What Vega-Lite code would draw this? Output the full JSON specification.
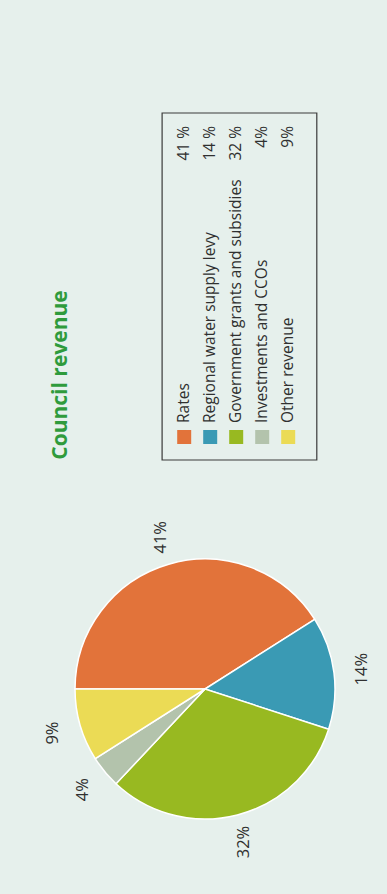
{
  "$schema": "https://vega.github.io/schema/vega-lite/v6.json",
  "background": "#E6F0EC",
  "padding": {"left": 23, "top": 0, "right": 0, "bottom": 0},
  "spacing": 0,
  "config": {
    "view": {"stroke": null},
    "font": "Open Sans",
    "text": {"font": "Open Sans"}
  },
  "datasets": {
    "revenue": [
      {"category": "Rates", "value": 41, "order": 1, "legendPct": "41 %", "piePct": "41%"},
      {"category": "Regional water supply levy", "value": 14, "order": 2, "legendPct": "14 %", "piePct": "14%"},
      {"category": "Government grants and subsidies", "value": 32, "order": 3, "legendPct": "32 %", "piePct": "32%"},
      {"category": "Investments and CCOs", "value": 4, "order": 4, "legendPct": "4%", "piePct": "4%"},
      {"category": "Other revenue", "value": 9, "order": 5, "legendPct": "9%", "piePct": "9%"}
    ]
  },
  "vconcat": [
    {
      "width": 364,
      "height": 484,
      "layer": [
        {
          "data": {"values": [{"title": "Council revenue"}]},
          "mark": {"type": "text", "angle": 270, "align": "center", "baseline": "middle", "fontSize": 21, "fontWeight": "bold", "color": "#2F9B3C"},
          "encoding": {
            "x": {"datum": -3.75, "type": "quantitative", "scale": {"domain": [-5.2, 8.8], "nice": false, "zero": false}, "axis": null},
            "y": {"datum": 375, "type": "quantitative", "scale": {"domain": [0, 484], "nice": false, "zero": false, "reverse": true}, "axis": null},
            "text": {"field": "title"}
          }
        },
        {
          "data": {"values": [{"box": "legend"}]},
          "mark": {"type": "rect", "fill": null, "fillOpacity": 0, "stroke": "#3a3a3a", "strokeWidth": 1.2},
          "encoding": {
            "x": {"datum": 0.15, "type": "quantitative"},
            "x2": {"datum": 6.1},
            "y": {"datum": 113, "type": "quantitative"},
            "y2": {"datum": 460}
          }
        },
        {
          "data": {"name": "revenue"},
          "mark": {"type": "square", "size": 196, "filled": true, "opacity": 1},
          "encoding": {
            "x": {"field": "order", "type": "quantitative"},
            "y": {"datum": 437, "type": "quantitative"},
            "color": {
              "field": "category",
              "type": "nominal",
              "scale": {
                "domain": ["Rates", "Regional water supply levy", "Government grants and subsidies", "Investments and CCOs", "Other revenue"],
                "range": ["#E2733A", "#3A9AB4", "#98B921", "#B3C3AC", "#EBDB55"]
              },
              "legend": null
            }
          }
        },
        {
          "data": {"name": "revenue"},
          "mark": {"type": "text", "angle": 270, "align": "left", "baseline": "middle", "fontSize": 15.5, "color": "#303030"},
          "encoding": {
            "x": {"field": "order", "type": "quantitative"},
            "y": {"datum": 423, "type": "quantitative"},
            "text": {"field": "category"}
          }
        },
        {
          "data": {"name": "revenue"},
          "mark": {"type": "text", "angle": 270, "align": "right", "baseline": "middle", "fontSize": 15.5, "color": "#303030"},
          "encoding": {
            "x": {"field": "order", "type": "quantitative"},
            "y": {"datum": 126, "type": "quantitative"},
            "text": {"field": "legendPct"}
          }
        }
      ]
    },
    {
      "width": 364,
      "height": 410,
      "data": {"name": "revenue"},
      "encoding": {
        "theta": {"field": "value", "type": "quantitative", "stack": true, "scale": {"range": [-1.5708, 4.7124]}},
        "order": {"field": "order", "type": "quantitative"}
      },
      "layer": [
        {
          "mark": {"type": "arc", "outerRadius": 130, "stroke": "#FFFFFF", "strokeWidth": 1.5},
          "encoding": {
            "color": {
              "field": "category",
              "type": "nominal",
              "scale": {
                "domain": ["Rates", "Regional water supply levy", "Government grants and subsidies", "Investments and CCOs", "Other revenue"],
                "range": ["#E2733A", "#3A9AB4", "#98B921", "#B3C3AC", "#EBDB55"]
              },
              "legend": null
            }
          }
        },
        {
          "mark": {"type": "text", "radius": 158, "angle": 270, "align": "center", "baseline": "middle", "fontSize": 16.5, "color": "#303030"},
          "encoding": {
            "text": {"field": "piePct"}
          }
        }
      ]
    }
  ]
}
